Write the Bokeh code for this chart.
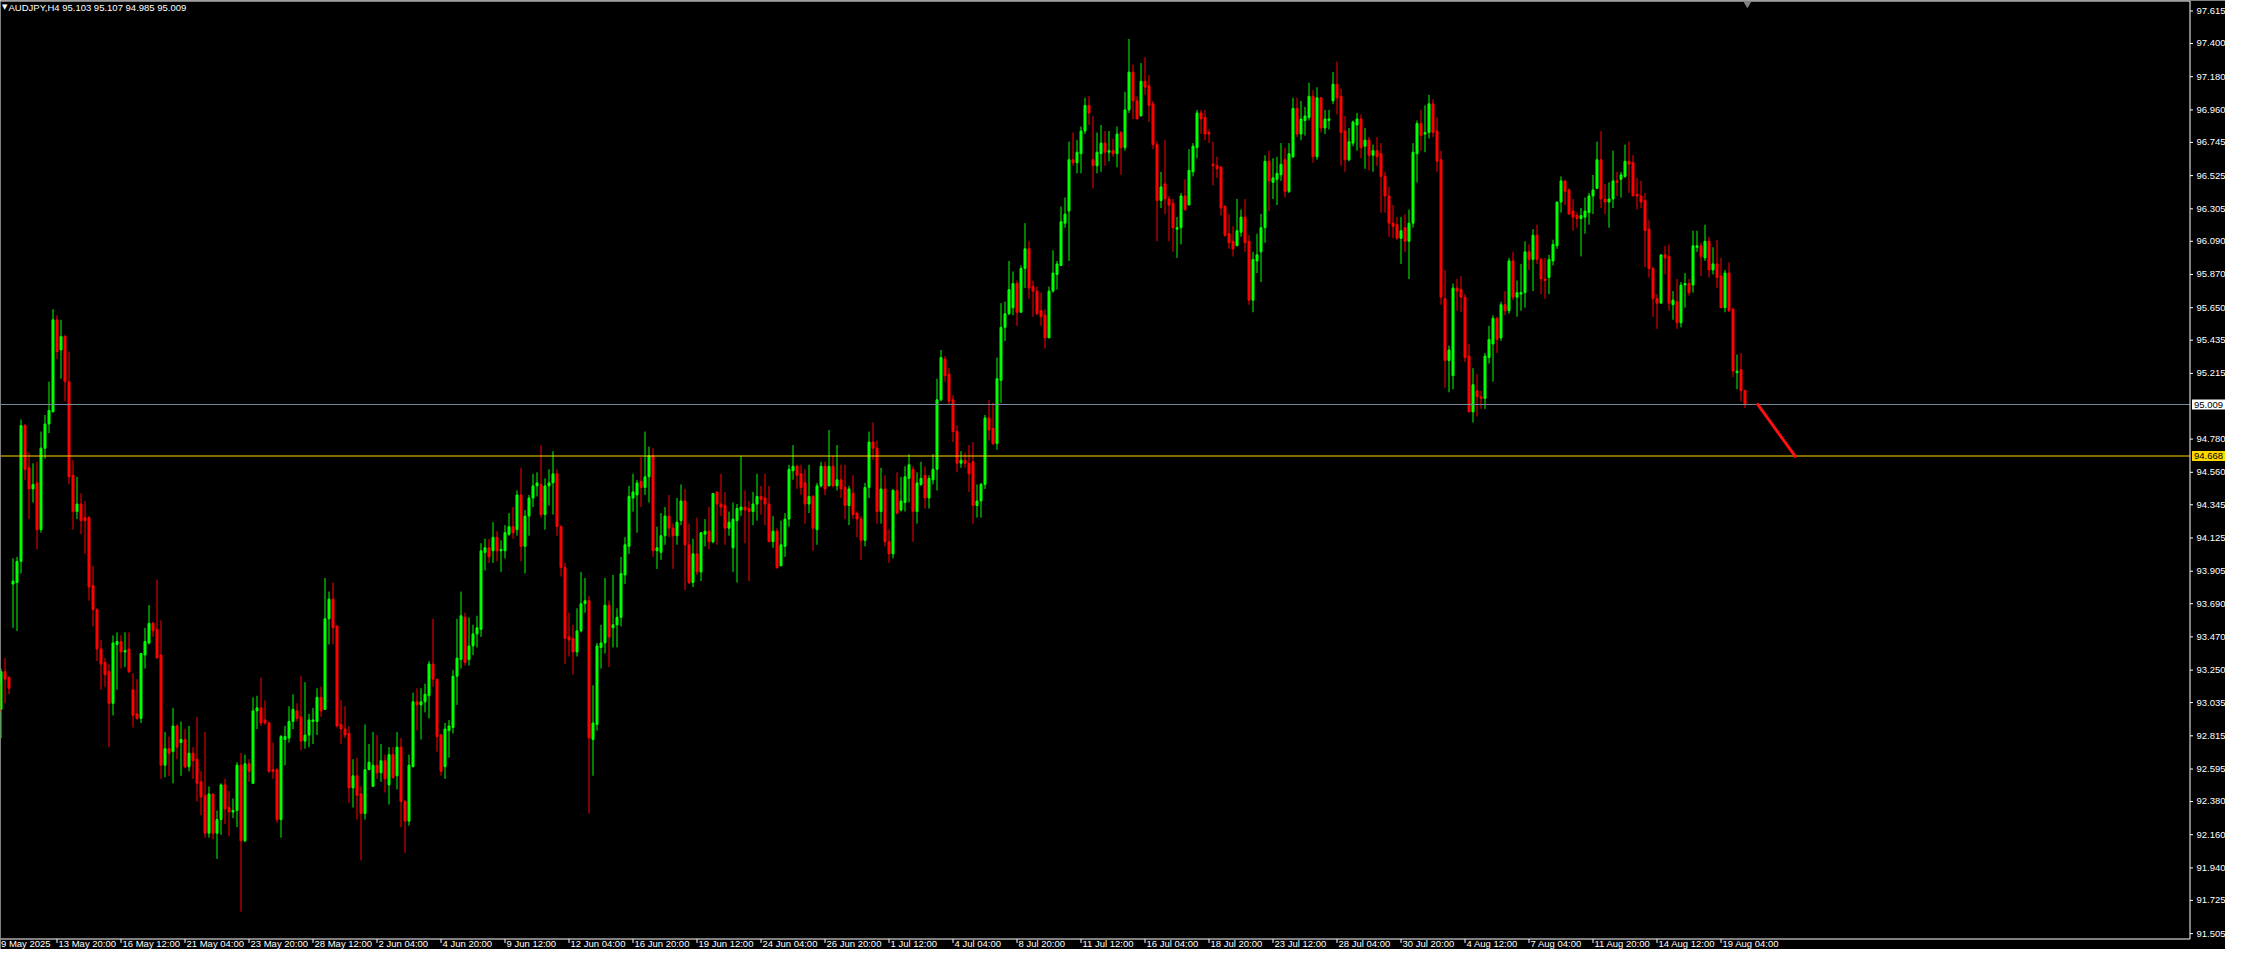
from bokeh.plotting import figure
from bokeh.models import Range1d, ColumnDataSource
from bokeh.core.properties import value
from bokeh.embed import file_html
from bokeh.resources import INLINE

symbol_text = "AUDJPY,H4  95.103 95.107 94.985 95.009"

opens = [
93.09,93.16,92.99,93.24,93.20,93.82,93.83,93.97,94.87,94.59,
94.45,94.49,94.18,94.72,94.88,94.96,95.57,95.37,95.46,95.16,
94.54,94.30,94.35,94.26,94.26,93.81,93.65,93.39,93.30,93.24,
93.03,93.42,93.44,93.37,93.39,93.12,92.96,92.93,93.35,93.43,
93.56,93.52,93.35,92.62,92.73,92.71,92.88,92.77,92.79,92.61,
92.70,92.66,92.51,92.42,92.17,92.43,92.17,92.26,92.49,92.34,
92.31,92.32,92.62,92.12,92.63,92.50,92.98,93.00,92.92,92.90,
92.59,92.59,92.26,92.79,92.80,92.91,92.98,92.94,92.78,92.82,
92.91,92.91,93.07,92.99,93.59,93.72,93.54,92.89,92.86,92.83,
92.47,92.55,92.43,92.30,92.59,92.48,92.62,92.57,92.65,92.49,
92.69,92.55,92.74,92.38,92.25,92.61,93.04,93.02,93.04,93.08,
93.29,93.19,92.82,92.61,92.85,92.87,93.21,93.32,93.60,93.32,
93.41,93.49,93.52,94.03,94.06,94.04,94.13,94.04,94.04,94.15,
94.20,94.18,94.41,94.07,94.27,94.39,94.47,94.48,94.28,94.47,
94.49,94.55,94.20,93.93,93.47,93.46,93.37,93.51,93.69,93.71,
92.79,92.89,93.40,93.43,93.68,93.53,93.55,93.60,93.88,94.07,
94.39,94.41,94.50,94.46,94.53,94.67,94.04,94.03,94.14,94.27,
94.19,94.14,94.24,94.37,94.08,93.83,94.02,93.90,94.15,94.17,
94.10,94.43,94.35,94.34,94.19,94.06,94.24,94.31,94.33,94.32,
94.30,94.35,94.40,94.39,94.35,94.10,94.17,93.94,94.07,94.25,
94.57,94.60,94.55,94.49,94.35,94.40,94.18,94.47,94.60,94.47,
94.60,94.47,94.51,94.46,94.34,94.42,94.29,94.25,94.11,94.46,
94.76,94.72,94.30,94.45,94.10,94.02,94.44,94.31,94.36,94.52,
94.58,94.30,94.48,94.54,94.39,94.51,94.58,95.04,95.31,95.21,
95.04,94.83,94.62,94.64,94.62,94.63,94.34,94.37,94.48,94.92,
94.85,94.75,95.17,95.52,95.61,95.65,95.81,95.62,95.91,96.04,
95.79,95.76,95.63,95.60,95.45,95.76,95.87,95.93,96.21,96.29,
96.63,96.61,96.67,96.82,96.99,96.63,96.59,96.67,96.74,96.68,
96.69,96.67,96.81,96.71,96.96,97.21,97.02,96.92,97.15,97.12,
97.00,96.73,96.36,96.47,96.37,96.34,96.17,96.18,96.39,96.33,
96.55,96.71,96.94,96.91,96.81,96.60,96.59,96.58,96.32,96.14,
96.09,96.06,96.15,96.25,96.09,95.70,95.96,96.02,96.18,96.62,
96.48,96.50,96.53,96.63,96.42,96.65,96.97,96.80,96.89,96.91,
97.05,96.65,97.04,96.84,96.89,97.02,97.13,97.05,96.82,96.63,
96.74,96.86,96.90,96.72,96.76,96.66,96.69,96.67,96.52,96.39,
96.21,96.20,96.11,96.18,96.09,96.21,96.67,96.87,96.80,96.81,
97.00,96.82,96.63,95.71,95.30,95.20,95.78,95.77,95.72,95.33,
94.96,95.10,95.06,95.05,95.32,95.41,95.58,95.45,95.67,95.63,
95.96,95.72,95.74,95.75,96.02,95.97,96.13,95.97,95.84,95.85,
95.96,96.06,96.35,96.49,96.43,96.29,96.26,96.24,96.25,96.28,
96.39,96.44,96.63,96.37,96.35,96.37,96.49,96.50,96.52,96.62,
96.61,96.40,96.39,96.36,96.17,95.91,95.71,95.68,96.00,95.99,
95.67,95.69,95.55,95.80,95.81,95.80,96.05,96.06,95.98,96.09,
95.90,95.94,95.86,95.65,95.88,95.64,95.22,95.24,95.103]

highs = [
93.33,93.19,93.26,93.33,93.21,93.99,94.00,94.91,94.88,94.69,
94.62,94.63,94.83,94.94,95.16,95.64,95.60,95.57,95.47,95.36,
94.64,94.53,94.42,94.37,94.27,93.94,93.66,93.45,93.33,93.29,
93.48,93.50,93.48,93.50,93.50,93.23,93.19,93.36,93.53,93.68,
93.57,93.85,93.58,92.84,92.81,93.00,92.89,92.91,92.86,92.88,
92.74,92.94,92.58,92.84,92.48,92.43,92.32,92.50,92.53,92.45,
92.40,92.64,92.70,92.69,92.66,93.07,93.08,93.20,93.05,92.91,
92.77,92.60,92.82,92.88,93.01,93.09,93.03,93.21,93.17,92.96,
93.00,93.13,93.14,93.86,93.77,93.83,93.55,93.05,93.01,92.88,
92.66,92.67,92.48,92.89,92.76,92.84,92.82,92.76,92.69,92.74,
92.74,92.84,92.80,92.39,92.69,93.10,93.13,93.13,93.16,93.31,
93.59,93.19,92.83,92.90,92.92,93.25,93.59,93.77,93.63,93.60,
93.55,93.61,94.09,94.12,94.12,94.23,94.17,94.11,94.21,94.29,
94.33,94.44,94.59,94.31,94.41,94.55,94.56,94.74,94.52,94.58,
94.70,94.58,94.21,93.96,93.63,93.55,93.66,93.90,93.86,93.74,
93.15,93.43,93.55,93.86,93.71,93.88,93.66,94.00,94.13,94.47,
94.55,94.51,94.66,94.83,94.73,94.72,94.20,94.29,94.33,94.41,
94.22,94.39,94.48,94.45,94.22,94.12,94.26,94.16,94.25,94.33,
94.42,94.43,94.55,94.43,94.30,94.36,94.35,94.67,94.44,94.37,
94.43,94.55,94.47,94.55,94.47,94.27,94.19,94.24,94.29,94.61,
94.74,94.61,94.61,94.58,94.61,94.41,94.49,94.63,94.63,94.84,
94.67,94.74,94.61,94.61,94.47,94.54,94.30,94.27,94.49,94.83,
94.89,94.77,94.59,94.54,94.18,94.45,94.56,94.53,94.60,94.68,
94.60,94.56,94.63,94.60,94.54,94.68,95.18,95.37,95.33,95.25,
95.07,94.87,94.70,94.69,94.74,94.76,94.48,94.49,94.94,95.04,
95.02,95.32,95.68,95.69,95.96,95.89,95.83,95.93,96.21,96.09,
95.83,95.79,95.75,95.64,95.79,96.03,95.96,96.32,96.38,96.75,
96.81,96.76,96.85,97.04,97.05,96.92,96.81,96.86,96.82,96.82,
96.77,96.85,96.82,97.08,97.43,97.26,97.05,97.27,97.31,97.19,
97.02,96.75,96.55,96.76,96.39,96.37,96.25,96.41,96.50,96.70,
96.74,96.96,96.96,96.96,96.83,96.75,96.65,96.59,96.33,96.27,
96.19,96.37,96.30,96.37,96.13,96.02,96.14,96.27,96.66,96.69,
96.64,96.65,96.74,96.71,96.74,97.04,97.04,97.02,96.98,97.14,
97.09,97.11,97.04,96.96,96.96,97.21,97.28,97.10,96.92,96.84,
96.89,96.94,96.93,96.84,96.78,96.73,96.78,96.74,96.55,96.45,
96.33,96.25,96.25,96.27,96.30,96.74,96.89,96.96,96.99,97.06,
97.03,96.91,96.69,95.90,95.40,95.81,95.84,95.86,95.74,95.41,
95.25,95.21,95.10,95.35,95.53,95.60,95.59,95.69,95.76,95.98,
96.02,95.83,95.94,96.09,96.07,96.17,96.20,95.98,95.98,96.00,
96.10,96.35,96.52,96.49,96.44,96.37,96.28,96.31,96.38,96.41,
96.53,96.75,96.82,96.47,96.48,96.69,96.55,96.55,96.73,96.75,
96.66,96.51,96.49,96.41,96.23,95.92,95.74,96.00,96.06,96.07,
95.76,95.84,95.82,95.88,95.84,96.16,96.16,96.08,96.20,96.12,
96.05,96.10,95.98,95.90,95.95,95.65,95.34,95.35,95.107]

lows = [
92.98,92.89,92.80,93.03,93.09,93.53,93.51,93.89,94.51,94.25,
94.36,94.05,94.16,94.65,94.82,94.96,95.31,95.18,95.03,94.48,
94.18,94.25,94.15,94.02,93.71,93.54,93.31,93.12,93.14,92.74,
92.95,93.12,93.26,93.27,93.23,92.87,92.92,92.90,93.26,93.42,
93.47,93.33,92.53,92.54,92.55,92.50,92.66,92.55,92.60,92.58,
92.53,92.38,92.29,92.14,92.14,92.13,92.00,92.16,92.23,92.15,
92.27,92.21,91.65,92.11,92.51,92.50,92.86,92.88,92.89,92.57,
92.53,92.24,92.14,92.62,92.77,92.86,92.91,92.72,92.73,92.74,
92.76,92.82,92.94,92.99,93.42,93.42,92.87,92.76,92.80,92.37,
92.34,92.26,91.99,92.26,92.59,92.48,92.53,92.51,92.44,92.36,
92.53,92.46,92.21,92.04,92.22,92.61,92.85,92.79,92.97,92.93,
93.14,92.71,92.55,92.53,92.67,92.83,93.02,93.26,93.28,93.28,
93.35,93.40,93.47,93.91,93.96,93.96,93.97,93.90,93.99,94.14,
94.12,94.14,93.97,93.89,94.14,94.33,94.40,94.26,94.18,94.34,
94.28,94.14,93.87,93.29,93.34,93.22,93.34,93.50,93.63,92.30,
92.55,92.85,93.26,93.36,93.27,93.40,93.40,93.54,93.82,94.02,
94.30,94.16,94.33,94.41,94.36,94.00,93.92,93.98,94.08,94.13,
93.92,94.08,94.21,93.78,93.82,93.80,93.88,93.84,94.07,94.05,
94.09,94.08,94.27,94.08,94.14,93.90,93.83,94.27,94.09,93.84,
94.21,94.24,94.28,94.21,94.10,94.06,93.92,93.94,94.00,94.20,
94.51,94.45,94.41,94.22,94.29,94.04,94.08,94.46,94.41,94.47,
94.46,94.44,94.39,94.25,94.21,94.25,94.13,93.98,94.07,94.39,
94.64,94.22,94.22,94.07,93.96,93.99,94.28,94.30,94.30,94.36,
94.10,94.22,94.47,94.32,94.32,94.48,94.44,95.03,95.16,95.01,
94.76,94.56,94.59,94.59,94.43,94.22,94.26,94.26,94.45,94.77,
94.74,94.71,95.02,95.43,95.60,95.60,95.53,95.62,95.78,95.71,
95.59,95.60,95.53,95.38,95.45,95.75,95.77,95.93,96.18,95.96,
96.59,96.54,96.54,96.80,96.86,96.44,96.54,96.55,96.59,96.62,
96.65,96.58,96.53,96.69,96.94,96.90,96.90,96.92,97.06,96.88,
96.70,96.09,96.31,96.27,96.09,96.02,95.98,96.07,96.29,96.33,
96.52,96.64,96.80,96.76,96.74,96.46,96.51,96.26,96.12,96.04,
95.99,96.06,96.12,96.02,95.67,95.62,95.88,95.82,96.08,96.29,
96.37,96.33,96.49,96.38,96.41,96.64,96.78,96.76,96.79,96.89,
96.61,96.63,96.81,96.80,96.83,97.00,96.93,96.59,96.55,96.62,
96.72,96.69,96.64,96.57,96.56,96.55,96.59,96.28,96.28,96.12,
96.11,96.10,95.94,96.02,95.84,96.18,96.48,96.69,96.68,96.77,
96.78,96.55,95.67,95.12,95.09,95.11,95.63,95.62,95.29,94.96,
94.89,94.93,94.98,94.98,95.28,95.16,95.35,95.43,95.60,95.61,
95.70,95.59,95.63,95.65,95.90,95.76,95.94,95.74,95.71,95.74,
95.93,96.04,96.28,96.33,96.27,96.16,96.18,95.99,96.14,96.20,
96.27,96.44,96.31,96.27,96.18,96.31,96.39,96.38,96.51,96.41,
96.39,96.30,96.31,95.92,95.85,95.59,95.51,95.68,95.87,95.63,
95.57,95.51,95.52,95.65,95.73,95.75,96.02,95.86,95.96,95.85,
95.87,95.78,95.65,95.62,95.62,95.19,95.11,95.03,94.985]

closes = [
93.16,92.98,93.24,93.19,93.13,93.84,93.97,94.87,94.58,94.45,
94.48,94.18,94.72,94.88,94.97,95.57,95.36,95.46,95.16,94.53,
94.30,94.35,94.24,94.24,93.80,93.65,93.39,93.29,93.22,93.03,
93.43,93.44,93.37,93.38,93.24,92.95,92.93,93.36,93.44,93.56,
93.51,93.33,92.62,92.73,92.70,92.88,92.74,92.79,92.61,92.70,
92.65,92.50,92.41,92.17,92.43,92.17,92.26,92.49,92.33,92.31,
92.32,92.62,92.12,92.63,92.58,92.98,93.00,92.90,92.90,92.58,
92.58,92.26,92.81,92.81,92.91,92.99,92.93,92.78,92.82,92.92,
92.92,93.07,92.98,93.59,93.72,93.53,92.88,92.86,92.82,92.47,
92.55,92.42,92.30,92.59,92.64,92.62,92.57,92.65,92.53,92.69,
92.54,92.74,92.38,92.25,92.62,93.04,93.02,93.04,93.09,93.29,
93.19,92.81,92.58,92.86,92.88,93.21,93.33,93.61,93.30,93.41,
93.49,93.53,94.04,94.06,94.00,94.13,94.04,94.05,94.16,94.20,
94.16,94.41,94.07,94.27,94.39,94.47,94.49,94.28,94.47,94.49,
94.55,94.20,93.93,93.46,93.45,93.37,93.51,93.69,93.71,92.80,
92.90,93.41,93.43,93.68,93.47,93.55,93.60,93.89,94.08,94.40,
94.43,94.49,94.46,94.53,94.67,94.04,94.06,94.14,94.27,94.19,
94.14,94.23,94.37,94.08,93.83,94.02,93.90,94.16,94.17,94.10,
94.42,94.35,94.33,94.19,94.23,94.25,94.32,94.33,94.31,94.30,
94.35,94.40,94.38,94.35,94.10,94.17,93.93,94.08,94.25,94.58,
94.60,94.54,94.46,94.35,94.40,94.19,94.47,94.60,94.45,94.60,
94.47,94.51,94.45,94.34,94.45,94.28,94.25,94.11,94.46,94.76,
94.72,94.30,94.45,94.10,94.02,94.44,94.29,94.37,94.53,94.61,
94.30,94.49,94.52,94.39,94.52,94.58,95.04,95.32,95.20,95.03,
94.83,94.62,94.64,94.62,94.55,94.34,94.37,94.48,94.92,94.84,
94.75,95.18,95.52,95.61,95.77,95.81,95.62,95.91,96.04,95.78,
95.76,95.61,95.59,95.45,95.76,95.88,95.94,96.22,96.27,96.63,
96.61,96.68,96.82,96.99,96.94,96.59,96.68,96.74,96.68,96.69,
96.67,96.80,96.71,96.96,97.21,97.02,96.90,97.15,97.11,96.99,
96.73,96.36,96.45,96.37,96.33,96.18,96.18,96.39,96.30,96.56,
96.72,96.94,96.90,96.80,96.80,96.59,96.57,96.31,96.13,96.08,
96.04,96.16,96.25,96.08,95.70,95.97,96.00,96.18,96.62,96.49,
96.51,96.54,96.60,96.42,96.67,96.97,96.80,96.90,96.92,97.05,
96.65,97.04,96.84,96.90,96.90,97.13,97.04,96.81,96.63,96.75,
96.88,96.90,96.71,96.76,96.66,96.69,96.65,96.52,96.39,96.21,
96.19,96.11,96.16,96.09,96.21,96.68,96.87,96.79,96.81,97.00,
96.81,96.62,95.72,95.30,95.37,95.78,95.76,95.72,95.32,94.96,
95.14,95.06,95.05,95.33,95.44,95.58,95.44,95.67,95.63,95.96,
95.72,95.75,95.75,96.02,95.97,96.13,95.97,95.84,95.83,95.97,
96.07,96.35,96.49,96.42,96.27,96.25,96.24,96.26,96.29,96.39,
96.43,96.63,96.37,96.35,96.37,96.49,96.48,96.53,96.62,96.60,
96.39,96.39,96.35,96.16,95.91,95.71,95.68,96.00,95.98,95.68,
95.70,95.55,95.80,95.81,95.75,96.06,96.06,95.99,96.09,95.90,
95.94,95.85,95.65,95.88,95.63,95.23,95.23,95.10,95.009]

price_ticks = [97.615, 97.400, 97.180, 96.960, 96.745, 96.525, 96.305, 96.090,
               95.870, 95.650, 95.435, 95.215, 94.780, 94.560, 94.345, 94.125,
               93.905, 93.690, 93.470, 93.250, 93.035, 92.815, 92.595, 92.380,
               92.160, 91.940, 91.725, 91.505]

time_tick_bars = list(range(0, 433, 16))
time_labels = ["9 May 2025", "13 May 20:00", "16 May 12:00", "21 May 04:00", "23 May 20:00",
               "28 May 12:00", "2 Jun 04:00", "4 Jun 20:00", "9 Jun 12:00", "12 Jun 04:00",
               "16 Jun 20:00", "19 Jun 12:00", "24 Jun 04:00", "26 Jun 20:00", "1 Jul 12:00",
               "4 Jul 04:00", "8 Jul 20:00", "11 Jul 12:00", "16 Jul 04:00", "18 Jul 20:00",
               "23 Jul 12:00", "28 Jul 04:00", "30 Jul 20:00", "4 Aug 12:00", "7 Aug 04:00",
               "11 Aug 20:00", "14 Aug 12:00", "19 Aug 04:00"]

bid_price = 95.009
level_price = 94.668
arrow_x = [441.0, 450.75]
arrow_y = [95.016, 94.659]

# ---------------- layout / style ----------------
UP = "#00FF00"
DOWN = "#FF0000"
FG = "#FFFFFF"
FONT = value("Liberation Sans")
FS = value("9.5px")
PX_X = 4.0            # pixels per bar
PX_Y = 151.0          # pixels per price unit
W, H = 2225, 949

# data ranges that fill the whole canvas (page offset 8 px)
X0 = (8 - 0.5) / PX_X
X1 = X0 + W / PX_X
Y1 = level_price + (463.5 - 8) / PX_Y
Y0 = Y1 - H / PX_Y

AXIS_X = (2197.5 - 0.5) / PX_X            # right price scale line
BOTTOM_Y = Y1 - (946.5 - 8) / PX_Y        # time scale line
TOP_Y = Y1 - 0.5 / PX_Y                   # top border

n = len(opens)
xs = list(range(n))
colors = [UP if c > o else DOWN for o, c in zip(opens, closes)]
tops = [max(o, c) for o, c in zip(opens, closes)]
bots = [min(o, c) for o, c in zip(opens, closes)]
hi = [max(h, t) for h, t in zip(highs, tops)]
lo = [min(l, b) for l, b in zip(lows, bots)]
src = ColumnDataSource(dict(x=xs, top=tops, bottom=bots, high=hi, low=lo, color=colors))

p = figure(width=W, height=H, x_range=Range1d(X0, X1), y_range=Range1d(Y0, Y1),
           output_backend="svg", toolbar_location=None,
           x_axis_location=None, y_axis_location=None,
           min_border=0, min_border_left=0, min_border_right=0,
           min_border_top=0, min_border_bottom=0,
           background_fill_color="black", border_fill_color="black",
           outline_line_color=None)
p.grid.visible = False

# candles
p.segment(x0="x", y0="low", x1="x", y1="high", line_color="color", line_width=1, source=src)
p.vbar(x="x", width=0.5, top="top", bottom="bottom", fill_color="color",
       line_color="color", line_width=1, source=src)

# horizontal price lines
p.segment(x0=[X0], y0=[bid_price], x1=[AXIS_X], y1=[bid_price], line_color="#778899", line_width=1)
p.segment(x0=[X0], y0=[level_price], x1=[AXIS_X], y1=[level_price], line_color="#FFD700", line_width=1)
p.line(arrow_x, arrow_y, line_color="#FF1010", line_width=3)

# frame lines
p.segment(x0=[X0, X0, AXIS_X], y0=[TOP_Y, BOTTOM_Y, BOTTOM_Y],
          x1=[AXIS_X, AXIS_X, AXIS_X], y1=[TOP_Y, BOTTOM_Y, TOP_Y],
          line_color=FG, line_width=1)

# price scale
tick_len_x = 3 / PX_X
p.segment(x0=[AXIS_X] * len(price_ticks), y0=price_ticks,
          x1=[AXIS_X + tick_len_x] * len(price_ticks), y1=price_ticks,
          line_color=FG, line_width=1)
p.text(x=[AXIS_X + 6.5 / PX_X] * len(price_ticks), y=price_ticks,
       text=["%.3f" % t for t in price_ticks], text_align="left", text_baseline="middle",
       text_color=FG, text_font=FONT, text_font_size=FS)

# current-price and level boxes
box_h = 10 / PX_Y
box_l = AXIS_X + 2 / PX_X
box_r = AXIS_X + 38 / PX_X
p.quad(left=[box_l, box_l], right=[box_r, box_r],
       bottom=[bid_price - box_h / 2, level_price - box_h / 2],
       top=[bid_price + box_h / 2, level_price + box_h / 2],
       fill_color=["#FFFFFF", "#FFD700"], line_color=None)
p.text(x=[AXIS_X + 4 / PX_X] * 2, y=[bid_price, level_price],
       text=["%.3f" % bid_price, "%.3f" % level_price], text_align="left",
       text_baseline="middle", text_color="black", text_font=FONT, text_font_size=FS)

# time scale
tick_len_y = 4 / PX_Y
p.segment(x0=time_tick_bars, y0=[BOTTOM_Y] * len(time_tick_bars),
          x1=time_tick_bars, y1=[BOTTOM_Y - tick_len_y] * len(time_tick_bars),
          line_color=FG, line_width=1)
label_x = [max(b + 1.5 / PX_X, X0 + 0.5 / PX_X) for b in time_tick_bars]
label_y = BOTTOM_Y - 4.5 / PX_Y
p.text(x=label_x, y=[label_y] * len(time_labels), text=time_labels,
       text_align="left", text_baseline="middle", text_color=FG,
       text_font=FONT, text_font_size=FS)

# header
head_y = Y1 - 6.5 / PX_Y
p.text(x=[X0 + 1.5 / PX_X], y=[head_y], text=["\u25BC"], text_align="left",
       text_baseline="middle", text_color=FG, text_font=value("DejaVu Sans"),
       text_font_size=value("7px"))
p.text(x=[(16 - 0.5) / PX_X], y=[head_y], text=[symbol_text], text_align="left",
       text_baseline="middle", text_color=FG, text_font=FONT, text_font_size=FS)

# chart-shift marker
shift_bar = [438.6]
p.scatter(x=shift_bar, y=[Y1 - 3 / PX_Y], marker="inverted_triangle", size=7,
          fill_color="#808080", line_color="#808080")

open("out.html", "w").write(file_html(p, INLINE))
